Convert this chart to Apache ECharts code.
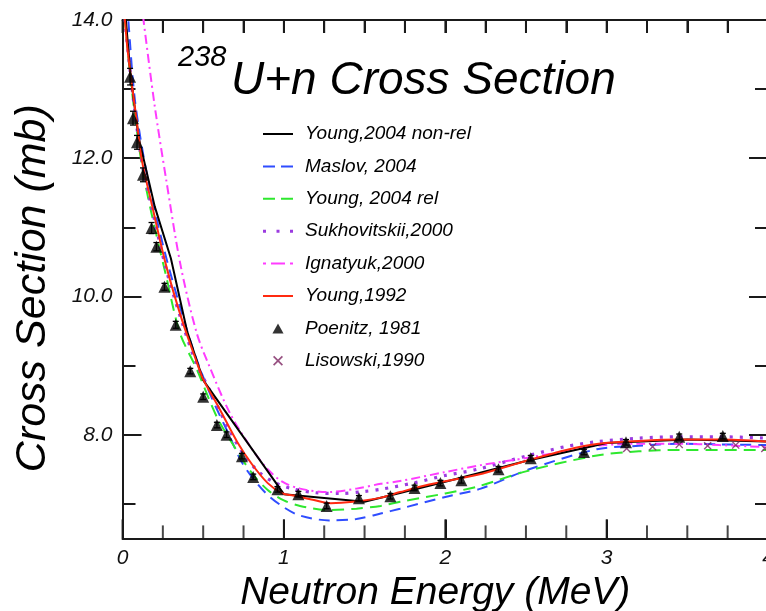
<!DOCTYPE html>
<html><head><meta charset="utf-8">
<script src="https://cdn.jsdelivr.net/npm/echarts@6/dist/echarts.min.js"></script>
<style>html,body{margin:0;padding:0;background:#fff}#c{width:766px;height:611px}</style>
</head><body><div id="c"></div>
<script>
// ---- data ----
const xMajorTicks = [0, 1, 2, 3, 4];
const xMinorTicks = [0.25, 0.5, 0.75, 1.25, 1.5, 1.75, 2.25, 2.5, 2.75, 3.25, 3.5, 3.75];
const xTopTicks = [0, 0.25, 0.5, 0.75, 1, 1.25, 1.5, 1.75, 2, 2.25, 2.5, 2.75, 3, 3.25, 3.5, 3.75, 4];
const yTickLabels = [8, 10, 12, 14];
const yMinorTicks = [7, 9, 11, 13];

const youngNonRelX = [0.01, 0.05, 0.1, 0.2, 0.3, 0.4, 0.5, 1.0, 1.5, 2.0, 2.5, 3.0, 3.5, 4.0];
const youngNonRelY = [14.3, 13.2, 12.3, 11.3, 10.55, 9.5, 8.79, 7.14, 7.03, 7.32, 7.62, 7.88, 7.93, 7.90];

const maslovX = [0.02, 0.036, 0.077, 0.15, 0.25, 0.35, 0.45, 0.55, 0.65, 0.75, 0.89, 1.0, 1.1, 1.28, 1.45, 1.6, 1.72, 2.0, 2.22, 2.52, 2.94, 3.2, 3.45, 3.7, 4.0];
const maslovY = [14.5, 14.0, 12.84, 11.78, 10.75, 9.9, 9.15, 8.55, 8.05, 7.56, 7.15, 6.95, 6.83, 6.76, 6.78, 6.86, 6.93, 7.1, 7.22, 7.5, 7.79, 7.84, 7.87, 7.86, 7.85];

const youngRelX = [0.005, 0.015, 0.057, 0.12, 0.18, 0.27, 0.356, 0.46, 0.584, 0.7, 0.8, 0.9, 1.0, 1.1, 1.285, 1.45, 1.6, 1.72, 2.0, 2.2, 2.5, 2.94, 3.2, 3.45, 4.0];
const youngRelY = [14.3, 14.0, 13.0, 11.9, 11.2, 10.3, 9.47, 8.95, 8.26, 7.8, 7.45, 7.2, 7.05, 6.97, 6.91, 6.93, 6.97, 7.03, 7.15, 7.25, 7.47, 7.70, 7.76, 7.78, 7.78];

const sukhoX = [0.005, 0.015, 0.06, 0.12, 0.18, 0.27, 0.37, 0.46, 0.55, 0.65, 0.75, 0.85, 0.95, 1.05, 1.2, 1.35, 1.5, 1.6, 1.8, 2.0, 2.2, 2.5, 2.75, 2.94, 3.2, 3.45, 3.7, 4.0];
const sukhoY = [14.3, 14.0, 13.0, 11.95, 11.3, 10.4, 9.62, 9.02, 8.6, 8.12, 7.72, 7.45, 7.3, 7.22, 7.16, 7.15, 7.18, 7.21, 7.3, 7.41, 7.5, 7.69, 7.83, 7.9, 7.95, 7.97, 7.97, 7.95];

const ignatyukX = [0.1, 0.13, 0.2, 0.27, 0.36, 0.46, 0.54, 0.666, 0.8, 0.9, 0.99, 1.1, 1.27, 1.45, 1.6, 1.72, 2.0, 2.22, 2.52, 2.94, 3.2, 3.45, 3.7, 4.0];
const ignatyukY = [14.6, 14.0, 12.75, 11.7, 10.45, 9.47, 8.98, 8.31, 7.8, 7.5, 7.32, 7.22, 7.17, 7.22, 7.29, 7.33, 7.46, 7.56, 7.67, 7.84, 7.87, 7.87, 7.85, 7.82];

const young1992X = [0.005, 0.015, 0.03, 0.057, 0.09, 0.12, 0.18, 0.27, 0.37, 0.46, 0.5, 0.6, 0.71, 0.8, 0.9, 0.99, 1.06, 1.18, 1.29, 1.43, 1.6, 1.72, 1.9, 2.2, 2.5, 2.75, 2.95, 3.2, 3.45, 3.7, 4.0];
const young1992Y = [14.3, 14.0, 13.6, 13.08, 12.5, 11.97, 11.35, 10.45, 9.65, 9.05, 8.8, 8.38, 7.9, 7.58, 7.3, 7.15, 7.12, 7.06, 7.01, 7.03, 7.09, 7.17, 7.28, 7.42, 7.62, 7.78, 7.87, 7.91, 7.93, 7.93, 7.90];

const poenitzX = [0.047, 0.065, 0.09, 0.127, 0.18, 0.21, 0.26, 0.33, 0.42, 0.50, 0.585, 0.645, 0.74, 0.81, 0.96, 1.09, 1.265, 1.465, 1.66, 1.81, 1.97, 2.10, 2.33, 2.53, 2.86, 3.12, 3.45, 3.72];
const poenitzY = [13.18, 12.58, 12.23, 11.76, 10.99, 10.72, 10.14, 9.59, 8.92, 8.55, 8.14, 8.0, 7.69, 7.39, 7.21, 7.14, 6.97, 7.08, 7.11, 7.23, 7.30, 7.34, 7.50, 7.66, 7.75, 7.89, 7.97, 7.98];
const poenitzErr = [0.12, 0.1, 0.1, 0.1, 0.08, 0.06, 0.05, 0.05, 0.04, 0.04, 0.04, 0.04, 0.04, 0.04, 0.04, 0.04, 0.04, 0.04, 0.04, 0.04, 0.04, 0.04, 0.04, 0.04, 0.04, 0.04, 0.04, 0.04];

const lisowskiX = [3.124, 3.285, 3.45, 3.626, 3.80, 3.98];
const lisowskiY = [7.80, 7.825, 7.86, 7.84, 7.85, 7.80];

const names = ['Young,2004 non-rel', 'Maslov, 2004', 'Young, 2004 rel', 'Sukhovitskii,2000', 'Ignatyuk,2000', 'Young,1992', 'Poenitz, 1981', 'Lisowski,1990'];

// ---- build ----
const zip = (xs, ys) => xs.map((x, i) => [x, ys[i]]);
const FONT = 'Liberation Sans';
const AX = '#1a1a1a';
const Y_MIN = 6.5, Y_MAX = 14;

function lineSeries(name, xs, ys, color, type, smooth, width, z) {
  return {
    name, type: 'line', data: zip(xs, ys), symbol: 'none', smooth: smooth,
    clip: true, z: z, xAxisIndex: 0, yAxisIndex: 0,
    lineStyle: { color, width: width, type: type },
    itemStyle: { color }
  };
}

// x-axis tick marks drawn as thin rect symbols placed through the axis scale
function tickSeries(name, xs, yEdge, len, up) {
  return {
    name, type: 'scatter', xAxisIndex: 0, yAxisIndex: 0, silent: true, clip: false, z: 8,
    data: xs.map(x => [x, yEdge]),
    symbol: 'rect', symbolSize: [2, len], symbolOffset: [0, up ? '-50%' : '50%'],
    itemStyle: { color: AX }, emphasis: { disabled: true }, tooltip: { show: false }
  };
}

const series = [
  lineSeries(names[1], maslovX, maslovY, '#2f4dff', [11, 7], 0.3, 2, 2),
  lineSeries(names[2], youngRelX, youngRelY, '#2ee82e', [12, 7], 0.3, 2, 2),
  lineSeries(names[3], sukhoX, sukhoY, '#9b3be0', [3, 7], 0.3, 3.2, 2),
  lineSeries(names[4], ignatyukX, ignatyukY, '#ff3cff', [9, 4, 2, 4], 0.3, 2, 2),
  lineSeries(names[0], youngNonRelX, youngNonRelY, '#000000', 'solid', false, 2, 3),
  lineSeries(names[5], young1992X, young1992Y, '#ff2a10', 'solid', 0.3, 2, 4),
  tickSeries('tickMajor', xMajorTicks, Y_MIN, 19, true),
  tickSeries('tickMinor', xMinorTicks, Y_MIN, 13, true),
  tickSeries('tickTop', xTopTicks, Y_MAX, 13, false),
  {
    name: 'err', type: 'custom', z: 5, xAxisIndex: 0, yAxisIndex: 0,
    data: poenitzX.map((x, i) => [x, poenitzY[i], poenitzErr[i]]),
    renderItem: function (params, api) {
      const x = api.value(0), y = api.value(1), e = api.value(2);
      const t = api.coord([x, y + e]), b = api.coord([x, y - e]);
      const st = { stroke: '#000', lineWidth: 1.3 };
      return { type: 'group', children: [
        { type: 'line', shape: { x1: t[0], y1: t[1], x2: b[0], y2: b[1] }, style: st },
        { type: 'line', shape: { x1: t[0] - 3, y1: t[1], x2: t[0] + 3, y2: t[1] }, style: st },
        { type: 'line', shape: { x1: b[0] - 3, y1: b[1], x2: b[0] + 3, y2: b[1] }, style: st }
      ]};
    }
  },
  {
    name: names[6], type: 'scatter', data: zip(poenitzX, poenitzY), symbol: 'triangle', symbolSize: 12, z: 6,
    xAxisIndex: 0, yAxisIndex: 0, itemStyle: { color: '#000' }
  },
  {
    name: names[7], type: 'scatter', data: zip(lisowskiX, lisowskiY), z: 5, xAxisIndex: 0, yAxisIndex: 0,
    symbol: 'path://M0,1.2 L1.2,0 L5,3.8 L8.8,0 L10,1.2 L6.2,5 L10,8.8 L8.8,10 L5,6.2 L1.2,10 L0,8.8 L3.8,5 Z',
    symbolSize: 8, itemStyle: { color: '#7d2462' }
  }
];

const legendIcons = [
  'path://M0,0h30v2h-30z',
  'path://M0,0h12v2h-12z M18,0h12v2h-12z',
  'path://M0,0h12v2h-12z M18,0h12v2h-12z',
  'path://M0,0h3v3h-3z M13.5,0h3v3h-3z M27,0h3v3h-3z',
  'path://M0,0h3v2h-3z M8,0h14v2h-14z M27,0h3v2h-3z',
  'path://M0,0h30v2h-30z',
  'path://M5,0 L10,9 L0,9 Z',
  'path://M0,1.2 L1.2,0 L5,3.8 L8.8,0 L10,1.2 L6.2,5 L10,8.8 L8.8,10 L5,6.2 L1.2,10 L0,8.8 L3.8,5 Z'
];

const chart = echarts.init(document.getElementById('c'), null, { renderer: 'canvas' });
const tk = () => ({ color: AX, width: 2 });
const labelFont = { fontFamily: FONT, fontStyle: 'italic', fontSize: 21, color: '#111' };
const G = () => ({ left: 122.5, right: -2, top: 20, bottom: 72.6, outerBoundsMode: 'none' });

const hiddenX = gi => ({ gridIndex: gi, type: 'value', min: 0, max: 4, show: false });
const yTickAxis = (gi, pos, vals, len, line) => ({
  gridIndex: gi, type: 'value', min: Y_MIN, max: Y_MAX, position: pos,
  axisLine: { show: line, onZero: false, lineStyle: tk() },
  axisTick: { show: true, inside: true, length: len, customValues: vals, lineStyle: tk() },
  axisLabel: { show: false }, splitLine: { show: false }
});

chart.setOption({
  animation: false,
  backgroundColor: '#fff',
  textStyle: { fontFamily: FONT },
  title: [
    { text: '238', left: 178, top: 43, padding: 0, textStyle: { fontFamily: FONT, fontStyle: 'italic', fontWeight: 'normal', fontSize: 29, color: '#000' } },
    { text: 'U+n Cross Section', left: 231, top: 58, padding: 0, textStyle: { fontFamily: FONT, fontStyle: 'italic', fontWeight: 'normal', fontSize: 46, color: '#000' } }
  ],
  grid: [G(), G(), G(), G()],
  legend: {
    orient: 'vertical', left: 258, top: 119, itemWidth: 30, itemHeight: 10, itemGap: 12.4,
    symbolKeepAspect: true,
    data: names.map((n, i) => ({ name: n, icon: legendIcons[i] })),
    textStyle: { fontFamily: FONT, fontStyle: 'italic', fontSize: 19, color: '#000', lineHeight: 20, padding: [0, 0, 0, 7] },
    selectedMode: false
  },
  xAxis: [
    {
      gridIndex: 0, type: 'value', min: 0, max: 4, position: 'bottom',
      name: 'Neutron Energy (MeV)', nameLocation: 'middle', nameGap: 19,
      nameTextStyle: { fontFamily: FONT, fontStyle: 'italic', fontSize: 39, color: '#000', padding: [0, 20, 0, 0] },
      axisLine: { show: true, onZero: false, lineStyle: tk() },
      axisTick: { show: true, inside: true, length: 19, customValues: xMajorTicks, lineStyle: tk() },
      axisLabel: Object.assign({ margin: 9, customValues: xMajorTicks }, labelFont),
      splitLine: { show: false }
    },
    {
      gridIndex: 1, type: 'value', min: 0, max: 4, position: 'top',
      axisLine: { show: true, onZero: false, lineStyle: tk() },
      axisTick: { show: true, inside: true, length: 13, customValues: xTopTicks, lineStyle: tk() },
      axisLabel: { show: false }, splitLine: { show: false }
    },
    hiddenX(2),
    hiddenX(3)
  ],
  yAxis: [
    {
      gridIndex: 0, type: 'value', min: Y_MIN, max: Y_MAX, position: 'left',
      name: 'Cross Section (mb)', nameLocation: 'middle', nameGap: 68, nameRotate: 90,
      nameTextStyle: { fontFamily: FONT, fontStyle: 'italic', fontSize: 43, color: '#000', padding: [0, 18, 0, 0] },
      axisLine: { show: true, onZero: false, lineStyle: tk() },
      axisTick: { show: true, inside: true, length: 19, customValues: yTickLabels, lineStyle: tk() },
      axisLabel: Object.assign({ margin: 10, customValues: yTickLabels, formatter: v => Number(v).toFixed(1) }, labelFont),
      splitLine: { show: false }
    },
    yTickAxis(1, 'left', yMinorTicks, 13, false),
    yTickAxis(2, 'right', yTickLabels, 19, true),
    yTickAxis(3, 'right', yMinorTicks, 13, false)
  ],
  series: series
});
</script>
</body></html>
